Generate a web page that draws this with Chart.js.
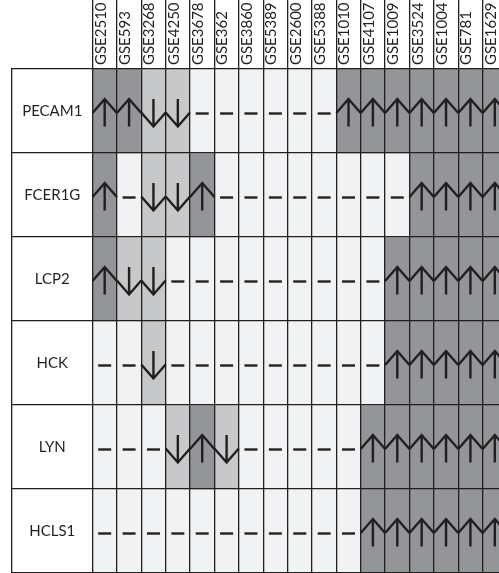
<!DOCTYPE html>
<html>
<head>
<meta charset="utf-8">
<script src="https://cdn.jsdelivr.net/npm/chart.js@4.4.1/dist/chart.umd.min.js"></script>
<style>
  html, body { margin: 0; padding: 0; background: #fff; overflow: hidden; width: 499px; height: 573px; }
  #wrap { position: absolute; left: 0; top: 0; width: 507px; height: 576px; }
</style>
</head>
<body>
<div id="wrap"><canvas id="c" width="507" height="576"></canvas></div>
<script>
// Expression datasets (columns) and genes (rows)
const studies = ['GSE2510', 'GSE593', 'GSE3268', 'GSE4250', 'GSE3678', 'GSE362', 'GSE3860',
                 'GSE5389', 'GSE2600', 'GSE5388', 'GSE1010', 'GSE4107', 'GSE1009', 'GSE3524',
                 'GSE1004', 'GSE781', 'GSE1629'];
const genes = ['PECAM1', 'FCER1G', 'LCP2', 'HCK', 'LYN', 'HCLS1'];

// Regulation per study: 1 = up, -1 = down, 0 = not changed
const PECAM1 = [1, 1, -1, -1, 0, 0, 0, 0, 0, 0, 1, 1, 1, 1, 1, 1, 1];
const FCER1G = [1, 0, -1, -1, 1, 0, 0, 0, 0, 0, 0, 0, 0, 1, 1, 1, 1];
const LCP2   = [1, -1, -1, 0, 0, 0, 0, 0, 0, 0, 0, 0, 1, 1, 1, 1, 1];
const HCK    = [0, 0, -1, 0, 0, 0, 0, 0, 0, 0, 0, 0, 1, 1, 1, 1, 1];
const LYN    = [0, 0, 0, -1, 1, -1, 0, 0, 0, 0, 0, 1, 1, 1, 1, 1, 1];
const HCLS1  = [0, 0, 0, 0, 0, 0, 0, 0, 0, 0, 0, 1, 1, 1, 1, 1, 1];

const rows = [PECAM1, FCER1G, LCP2, HCK, LYN, HCLS1];

const INK = '#231f20';
const FILL = { '1': '#939598', '-1': '#c7c8ca', '0': '#f1f2f3' };
const FONT = { family: 'Lato', size: 15 };
const GRID_W = 1.3;
const HEADER_H = 69;      // height of the rotated study-label band
const LABEL_W = 80.5;     // width of the gene-label column
const EDGE_W = 12;        // blank margin left of the gene-label column

// centre the gene names inside their column
const mctx = document.createElement('canvas').getContext('2d');
mctx.font = FONT.size + 'px ' + FONT.family;
const widest = Math.max(...genes.map(g => mctx.measureText(g).width));

// arrow (up / down) or dash drawn in every cell from its regulation value
const regulationSymbols = {
  id: 'regulationSymbols',
  afterDatasetsDraw(chart) {
    const ctx = chart.ctx;
    ctx.save();
    ctx.strokeStyle = INK;
    ctx.lineWidth = 2.4;
    ctx.lineCap = 'butt';
    ctx.lineJoin = 'miter';
    chart.data.datasets.forEach((ds, di) => {
      const meta = chart.getDatasetMeta(di);
      meta.data.forEach((bar, j) => {
        const { x, y, base, width } = bar.getProps(['x', 'y', 'base', 'width'], true);
        const cy = (y + base) / 2;
        const h = width / 2;
        const v = ds.state[j];
        ctx.beginPath();
        if (v === 1) {
          ctx.moveTo(x - h, cy + 2);
          ctx.lineTo(x, cy - 12);
          ctx.lineTo(x + h, cy + 2);
          ctx.moveTo(x, cy - 12);
          ctx.lineTo(x, cy + 15.5);
        } else if (v === -1) {
          ctx.moveTo(x - h, cy + 1.5);
          ctx.lineTo(x, cy + 15.5);
          ctx.lineTo(x + h, cy + 1.5);
          ctx.moveTo(x, cy + 15.5);
          ctx.lineTo(x, cy - 12);
        } else {
          ctx.moveTo(x - 6.5, cy + 2.5);
          ctx.lineTo(x + 6.5, cy + 2.5);
        }
        ctx.stroke();
      });
    });
    ctx.restore();
  }
};

new Chart(document.getElementById('c'), {
  type: 'bar',
  data: {
    labels: studies,
    datasets: genes.map((g, i) => ({
      label: g,
      state: rows[i],
      data: rows[i].map(() => 1),
      yAxisID: 'yv',
      backgroundColor: rows[i].map(v => FILL[v]),
      borderWidth: 0,
      barPercentage: 1,
      categoryPercentage: 1
    }))
  },
  options: {
    responsive: false,
    animation: false,
    devicePixelRatio: 1,
    layout: { padding: { top: 0, left: 0, right: 0, bottom: 3 } },
    plugins: { legend: { display: false }, tooltip: { enabled: false } },
    scales: {
      x: {
        type: 'category',
        position: 'top',
        stacked: true,
        offset: true,
        grid: { z: 1, offset: true, color: INK, lineWidth: GRID_W, tickLength: HEADER_H, tickColor: INK, tickWidth: GRID_W },
        border: { display: false },
        ticks: {
          autoSkip: false, minRotation: 90, maxRotation: 90,
          padding: -(HEADER_H - 4), labelOffset: 14,
          color: INK, font: FONT
        },
        afterFit(s) { s.height = HEADER_H; }
      },
      yv: { type: 'linear', stacked: true, min: 0, max: 6, reverse: true, display: false },
      y: {
        type: 'category',
        labels: genes,
        position: 'left',
        weight: 0,
        offset: true,
        grid: { z: 1, offset: true, color: INK, lineWidth: GRID_W, tickLength: LABEL_W, tickColor: INK, tickWidth: GRID_W },
        border: { display: false },
        ticks: { crossAlign: 'center', padding: -(LABEL_W + widest) / 2, color: INK, font: FONT },
        afterFit(s) { s.width = LABEL_W; }
      },
      edge: {
        type: 'linear',
        position: 'left',
        weight: 1,
        min: 0, max: 1,
        grid: { display: false, drawTicks: false },
        ticks: { display: false },
        border: { display: true, color: INK, width: GRID_W },
        afterFit(s) { s.width = EDGE_W; }
      }
    }
  },
  plugins: [regulationSymbols]
});
</script>
</body>
</html>
